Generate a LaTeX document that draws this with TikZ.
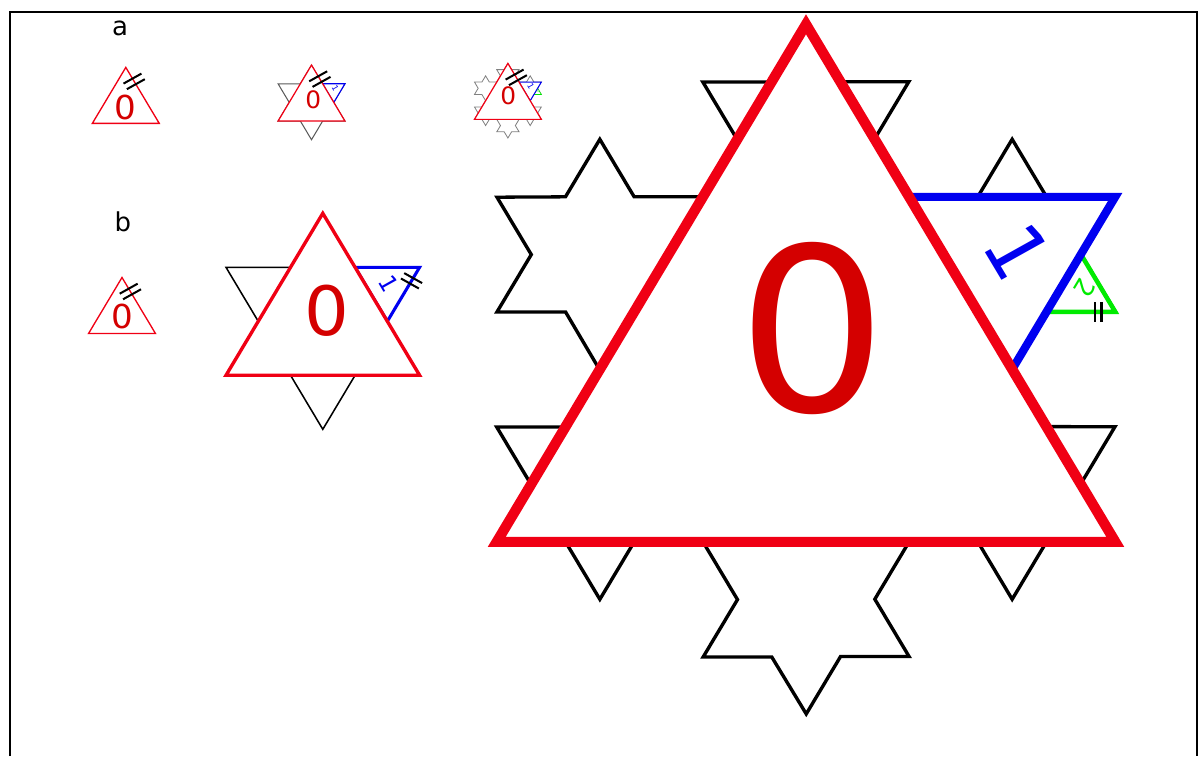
\documentclass[tikz,border=0pt]{standalone}
\usepackage{fontspec}
\setmainfont{DejaVu Sans}
\usepackage{tikz}
\usetikzlibrary{calc}
\usetikzlibrary{decorations.fractals}
\usetikzlibrary{decorations.markings}
\definecolor{kochred}{RGB}{240,0,20}
\definecolor{zerored}{RGB}{212,0,0}
\definecolor{kochblue}{RGB}{0,0,240}
\definecolor{kochgreen}{RGB}{0,235,0}
\tikzset{flake/.style={draw=black,fill=white,decoration=Koch snowflake},
  redtri/.style={draw=kochred,fill=white},
  bluetri/.style={draw=kochblue,fill=white},
  greentri/.style={draw=kochgreen,fill=white},
  lab/.style={inner sep=0pt},
  twoticks/.style={
    postaction=decorate,
    decoration={markings,
      mark=at position 0.2 with {\draw[line width=1pt] (0pt,5pt) -- (0pt,-5pt);},
      mark=at position 0.3 with {\draw[line width=1pt] (0pt,5pt) -- (0pt,-5pt);}}
  }
}

\begin{document}
\begin{tikzpicture}[x=0.5pt,y=0.5pt]
  \useasboundingbox (0,0) rectangle (1204,-756);
  \draw[line width=1pt] (10,-756) -- (10,-12) -- (1197,-12) -- (1197,-756);

  \node[lab,font=\fontsize{13}{13}\selectfont] (rowa) at (120,-28.3) {a};
  \node[lab,font=\fontsize{13}{13}\selectfont] (rowb) at (122.8,-221.7) {b};

  % a: level 0
  \begin{scope}[transform canvas={shift={(125.8,-104.7)},xscale=1.035}]
    \coordinate (a1T) at (90:37.3);
    \coordinate (a1R) at (330:37.3);
    \coordinate (a1L) at (210:37.3);
    \draw[redtri,line width=0.65pt] (a1T) -- (a1R) -- (a1L) -- cycle;
    \node[lab,text=zerored,font=\fontsize{16.5}{16.5}\selectfont] (a1zero) at (-0.8,-2.6) {0};
    \path[twoticks] (a1T) -- (a1R);
  \end{scope}

  % a: level 1
  \begin{scope}[transform canvas={shift={(311.5,-102.4)},xscale=1.035}]
    \coordinate (a2T) at (90:37.3);
    \coordinate (a2R) at (330:37.3);
    \coordinate (a2L) at (210:37.3);
    \coordinate (a2bL) at (60:21.54);
    \coordinate (a2bR) at (30:37.3);
    \coordinate (a2bB) at (0:21.54);
    \path[flake,draw=black!65,line width=0.5pt] decorate{(a2T) -- (a2R) -- (a2L) -- cycle};
    \draw[bluetri,line width=0.55pt] (a2bL) -- (a2bR) -- (a2bB) -- cycle;
    \draw[redtri,line width=0.6pt] (a2T) -- (a2R) -- (a2L) -- cycle;
    \node[lab,text=zerored,font=\fontsize{12}{12}\selectfont] (a2zero) at (1.7,3.1) {0};
    \node[lab,text=kochblue,rotate=-60,font=\fontsize{4}{4}\selectfont] (a2one) at (22.9,14.1) {1};
    \path[twoticks] (a2T) -- (a2R);
  \end{scope}

  % a: level 2
  \begin{scope}[transform canvas={shift={(507.9,-100.7)},xscale=1.035}]
    \coordinate (a3T) at (90:37.3);
    \coordinate (a3R) at (330:37.3);
    \coordinate (a3L) at (210:37.3);
    \coordinate (a3bL) at (60:21.54);
    \coordinate (a3bR) at (30:37.3);
    \coordinate (a3bB) at (0:21.54);
    \coordinate (a3gT) at ($(a3bR)!1/3!(a3bB)$);
    \coordinate (a3gL) at ($(a3bR)!2/3!(a3bB)$);
    \coordinate (a3gR) at ($(a3gT)!1!60:(a3gL)$);
    \path[flake,draw=black!50,line width=0.4pt] decorate{decorate{(a3T) -- (a3R) -- (a3L) -- cycle}};
    \draw[greentri,line width=0.3pt] (a3gT) -- (a3gR) -- (a3gL) -- cycle;
    \draw[bluetri,line width=0.5pt] (a3bL) -- (a3bR) -- (a3bB) -- cycle;
    \draw[redtri,line width=0.6pt] (a3T) -- (a3R) -- (a3L) -- cycle;
    \node[lab,text=zerored,font=\fontsize{12}{12}\selectfont] (a3zero) at (0.4,4.7) {0};
    \node[lab,text=kochblue,rotate=-60,font=\fontsize{4}{4}\selectfont] (a3one) at (22.1,14.9) {1};
    \node[lab,text=kochgreen,rotate=-120,font=\fontsize{1.4}{1.4}\selectfont] (a3two) at (29.1,8.8) {2};
    \path[twoticks] (a3T) -- (a3R);
  \end{scope}

  % b: level 0
  \begin{scope}[transform canvas={shift={(122,-314.8)},xscale=1.035}]
    \coordinate (b1T) at (90:37.3);
    \coordinate (b1R) at (330:37.3);
    \coordinate (b1L) at (210:37.3);
    \draw[redtri,line width=0.65pt] (b1T) -- (b1R) -- (b1L) -- cycle;
    \node[lab,text=zerored,font=\fontsize{16.5}{16.5}\selectfont] (b1zero) at (0.7,-1.2) {0};
    \path[twoticks] (b1T) -- (b1R);
  \end{scope}

  % b: level 1
  \begin{scope}[transform canvas={shift={(322.8,-321.3)},xscale=1.035}]
    \coordinate (b2T) at (90:108);
    \coordinate (b2R) at (330:108);
    \coordinate (b2L) at (210:108);
    \coordinate (b2bL) at (60:62.35);
    \coordinate (b2bR) at (30:108);
    \coordinate (b2bB) at (0:62.35);
    \path[flake,line width=0.75pt] decorate{(b2T) -- (b2R) -- (b2L) -- cycle};
    \draw[bluetri,line width=1.5pt] (b2bL) -- (b2bR) -- (b2bB) -- cycle;
    \draw[redtri,line width=1.65pt] (b2T) -- (b2R) -- (b2L) -- cycle;
    \node[lab,text=zerored,font=\fontsize{34}{34}\selectfont] (b2zero) at (3.8,10.3) {0};
    \node[lab,text=kochblue,rotate=-60,font=\fontsize{11.5}{11.5}\selectfont] (b2one) at (64.2,38) {1};
    \path[twoticks] (b2bR) -- (b2bB);
  \end{scope}

  % b: level 2
  \begin{scope}[transform canvas={shift={(806,-369.3)},xscale=1.035}]
    \coordinate (b3T) at (90:345);
    \coordinate (b3R) at (330:345);
    \coordinate (b3L) at (210:345);
    \coordinate (b3bL) at (60:199.19);
    \coordinate (b3bR) at (30:345);
    \coordinate (b3bB) at (0:199.19);
    \coordinate (b3gT) at ($(b3bR)!1/3!(b3bB)$);
    \coordinate (b3gL) at ($(b3bR)!2/3!(b3bB)$);
    \coordinate (b3gR) at ($(b3gT)!1!60:(b3gL)$);
    \path[flake,line width=1.65pt] decorate{decorate{(b3T) -- (b3R) -- (b3L) -- cycle}};
    \draw[greentri,line width=2.2pt] (b3gT) -- (b3gR) -- (b3gL) -- cycle;
    \draw[bluetri,line width=4pt] (b3bL) -- (b3bR) -- (b3bB) -- cycle;
    \draw[redtri,line width=5pt] (b3T) -- (b3R) -- (b3L) -- cycle;
    \node[lab,text=zerored,font=\fontsize{114}{114}\selectfont] (b3zero) at (6.8,41.3) {0};
    \node[lab,text=kochblue,rotate=-60,font=\fontsize{38}{38}\selectfont] (b3one) at (204.8,117.3) {1};
    \node[lab,text=kochgreen,rotate=-120,font=\fontsize{12.7}{12.7}\selectfont] (b3two) at (269.6,81.3) {2};
    \path[twoticks] (b3gR) -- (b3gL);
  \end{scope}
\end{tikzpicture}
\end{document}
